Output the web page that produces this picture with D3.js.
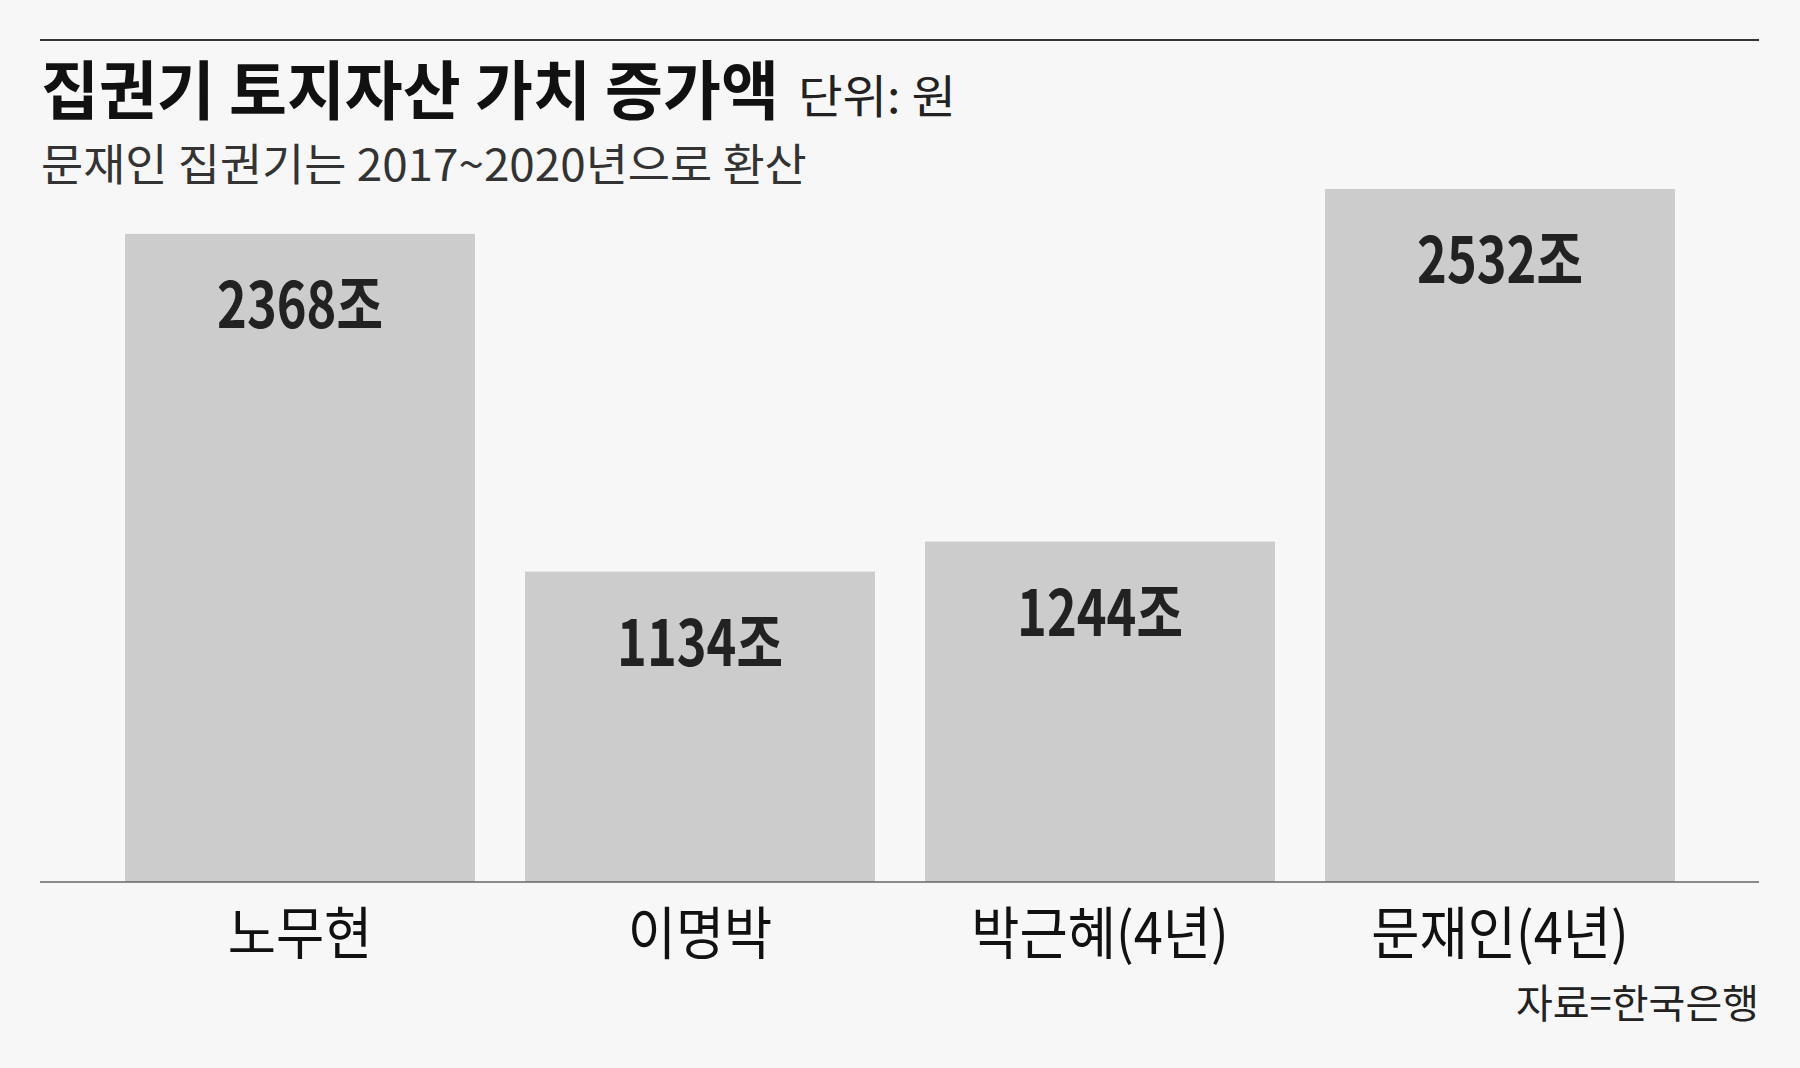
<!DOCTYPE html>
<html>
<head>
<meta charset="utf-8">
<script src="https://cdn.jsdelivr.net/npm/d3@7"></script>
<style>
  html, body { margin: 0; padding: 0; background: #f7f7f7; }
  svg { display: block; }
  text { font-family: "Noto Sans CJK KR", "Noto Sans", sans-serif; }
</style>
</head>
<body>
<svg id="chart" width="1800" height="1068"></svg>
<script>
const categories = ["노무현", "이명박", "박근혜(4년)", "문재인(4년)"];
const values = [2368, 1134, 1244, 2532];
const valueLabels = ["2368조", "1134조", "1244조", "2532조"];
const titleText = "집권기 토지자산 가치 증가액";
const unitText = "단위: 원";
const subtitleText = "문재인 집권기는 2017~2020년으로 환산";
const sourceText = "자료=한국은행";

const W = 1800, H = 1068;
const svg = d3.select("#chart");
svg.append("rect").attr("width", W).attr("height", H).attr("fill", "#f7f7f7");

const left = 40, right = 1759, baseY = 882, topY = 189;

const x = d3.scaleBand().domain(categories).range([100, 1700])
  .paddingInner(0.125).paddingOuter(0.0625);
const y = d3.scaleLinear().domain([0, d3.max(values)]).range([baseY, topY]);

// helper: place text at (tx,ty) condensed horizontally to a target width
function fitText(t, tx, ty, width) {
  const natural = t.node().getComputedTextLength();
  const s = width / natural;
  t.attr("transform", `translate(${tx},${ty}) scale(${s},1)`);
  return t;
}

// top rule
svg.append("line").attr("x1", left).attr("x2", right).attr("y1", 40).attr("y2", 40)
  .attr("stroke", "#333").attr("stroke-width", 2);

// title
fitText(svg.append("text")
  .attr("font-size", 64).attr("font-weight", 700).attr("fill", "#111")
  .text(titleText), 41, 114, 738);
fitText(svg.append("text")
  .attr("font-size", 46).attr("font-weight", 400).attr("fill", "#222")
  .text(unitText), 798, 113, 158);
fitText(svg.append("text")
  .attr("font-size", 44).attr("font-weight", 400).attr("fill", "#333")
  .text(subtitleText), 41, 181, 766);

// bars
const rows = categories.map((c, i) => ({ c, v: values[i], l: valueLabels[i] }));
svg.append("g").selectAll("rect").data(rows).join("rect")
  .attr("x", d => x(d.c)).attr("width", x.bandwidth())
  .attr("y", d => y(d.v)).attr("height", d => baseY - y(d.v))
  .attr("fill", "#cccccc");

// value labels (condensed bold)
const vsx = 0.79;
svg.append("g").selectAll("text").data(rows).join("text")
  .attr("transform", d => `translate(${x(d.c) + x.bandwidth() / 2},${y(d.v) + 94}) scale(${vsx},1)`)
  .attr("text-anchor", "middle")
  .attr("font-size", 64).attr("font-weight", 700).attr("fill", "#222")
  .text(d => d.l);

// axis
const axis = d3.axisBottom(x).tickSize(0).tickPadding(0);
const gx = svg.append("g").attr("transform", `translate(0,${baseY})`).call(axis);
gx.select(".domain").remove();
gx.selectAll(".tick text").remove();
svg.append("line").attr("x1", left).attr("x2", right).attr("y1", baseY).attr("y2", baseY)
  .attr("stroke", "#666").attr("stroke-width", 1.5);
gx.selectAll(".tick").append("text")
  .attr("transform", "translate(0,72) scale(0.92,1)")
  .attr("text-anchor", "middle")
  .attr("font-size", 57).attr("font-weight", 400).attr("fill", "#111")
  .text(d => d);

// source
svg.append("text").attr("x", 1759).attr("y", 1018).attr("text-anchor", "end")
  .attr("font-size", 40).attr("font-weight", 400).attr("fill", "#222")
  .text(sourceText);
</script>
</body>
</html>
